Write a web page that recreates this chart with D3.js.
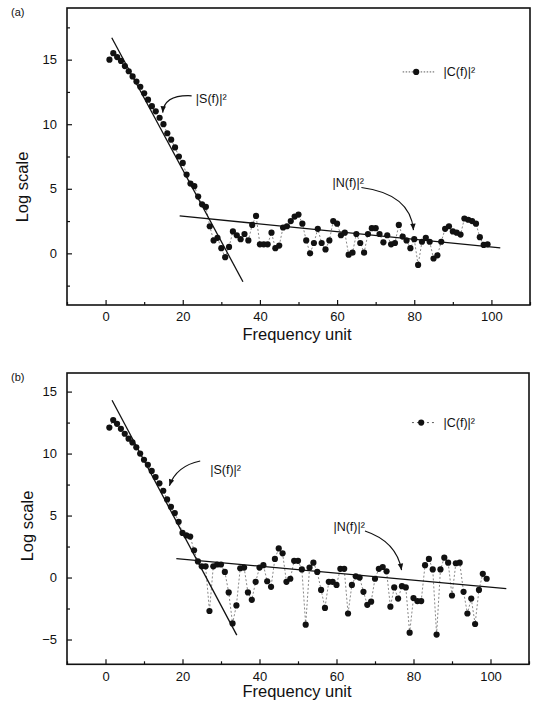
<!DOCTYPE html>
<html>
<head>
<meta charset="utf-8">
<script src="https://cdn.jsdelivr.net/npm/d3@7"></script>
<style>
  body { margin: 0; background: #fff; }
  text { font-family: "Liberation Sans", Arial, sans-serif; fill: #111; }
</style>
</head>
<body>
<script>

// frequency units 1..99
var freq = d3.range(1, 100);

// panel (a) |C(f)|^2
var valuesA = [15.0, 15.5, 15.2, 14.9, 14.5, 14.1, 13.7, 13.3, 12.9, 12.4,
  11.9, 11.4, 11.0, 10.5, 10.0, 9.3, 8.8, 8.2, 7.5, 7.0,
  6.1, 5.4, 5.2, 4.4, 3.8, 3.6, 2.1, 1.0, 1.2, 0.4,
  -0.3, 0.5, 1.7, 1.4, 1.1, 1.5, 1.0, 2.2, 2.9, 0.7,
  0.7, 0.7, 1.6, 0.4, 0.6, 2.0, 2.1, 2.5, 2.85, 3.0,
  2.3, 1.0, 0.0, 0.8, 1.9, 0.8, 0.3, 1.0, 2.5, 2.3,
  1.4, 1.6, -0.1, 0.05, 1.5, 0.8, 0.05, 1.5, 1.95, 1.95,
  1.5, 0.85, 1.4, 0.7, 0.8, 2.2, 1.3, 1.0, 0.4, 1.1,
  -0.9, 0.9, 1.2, 0.9, -0.4, -0.15, 0.9, 1.9, 2.1, 1.7,
  1.6, 1.45, 2.7, 2.6, 2.5, 2.3, 1.25, 0.65, 0.7];

// panel (b) |C(f)|^2
var valuesB = [12.1, 12.7, 12.4, 12.0, 11.6, 11.2, 10.9, 10.5, 10.0, 9.5,
  9.1, 8.6, 8.1, 7.6, 7.0, 6.3, 5.7, 5.2, 4.5, 3.6,
  3.4, 3.3, 2.2, 1.3, 0.9, 0.9, -2.7, 0.9, 1.05, 1.05,
  0.45, -1.2, -3.7, -2.25, 0.75, 0.8, -1.2, -1.8, -0.35, 0.8,
  1.0, -0.3, -0.75, 1.5, 2.35, 1.95, -0.35, -0.1, 1.35, 1.35,
  0.65, -3.8, 0.8, 1.2, 0.45, -1.0, -2.45, -0.35, -0.35, -0.6,
  0.7, 0.7, -2.9, -0.6, 0.1, 0.0, -1.15, -2.2, -1.95, -0.1,
  0.7, 0.85, 0.5, -2.35, -0.8, -1.7, -0.7, -0.8, -4.45, -1.65,
  -1.9, -1.9, 1.0, 1.5, 0.65, -4.6, 0.65, 1.6, 1.2, -1.45,
  1.15, 1.2, -1.15, -2.9, -1.7, -3.75, -1.0, 0.3, -0.1];

// fitted straight lines, [f, value] end points
var signalLineA = [[1.6, 16.7], [35.6, -2.2]];
var noiseLineA = [[19.2, 2.9], [102.3, 0.42]];
var signalLineB = [[1.7, 14.3], [34.1, -4.65]];
var noiseLineB = [[18.4, 1.53], [104.1, -0.89]];

var xTicks = [0, 20, 40, 60, 80, 100];
var yTicksA = [0, 5, 10, 15];
var yTicksB = [-5, 0, 5, 10, 15];

var W = 538, H = 708;
var svg = d3.select("body").append("svg").attr("width", W).attr("height", H);

function drawPanel(p) {
  var x = d3.scaleLinear().domain([-10, 110]).range([p.left, p.right]);
  var y = d3.scaleLinear().domain(p.yDomain).range([p.bottom, p.top]);
  var g = svg.append("g");

  // frame
  g.append("rect")
    .attr("x", p.left).attr("y", p.top)
    .attr("width", p.right - p.left).attr("height", p.bottom - p.top)
    .attr("fill", "none").attr("stroke", "#111").attr("stroke-width", 1.6);

  // axes with inward ticks
  var xAxis = d3.axisBottom(x).tickValues(xTicks).tickSize(-5).tickPadding(7).tickFormat(d3.format("d"));
  var xMinor = d3.axisBottom(x).tickValues(d3.range(-10, 111, 20)).tickSize(-3).tickFormat("");
  var yAxis = d3.axisLeft(y).tickValues(p.yTicks).tickSize(-5).tickPadding(10).tickFormat(d3.format("d"));
  var yMinor = d3.axisLeft(y).tickValues(p.yMinor).tickSize(-3).tickFormat("");

  [xAxis, xMinor].forEach(function (ax) {
    var a = g.append("g").attr("transform", "translate(0," + p.bottom + ")").call(ax);
    a.select(".domain").remove();
    a.selectAll("line").attr("stroke", "#111").attr("stroke-width", 1.2);
    a.selectAll("text").attr("font-size", 13).style("fill", "#111");
  });
  [yAxis, yMinor].forEach(function (ax) {
    var a = g.append("g").attr("transform", "translate(" + p.left + ",0)").call(ax);
    a.select(".domain").remove();
    a.selectAll("line").attr("stroke", "#111").attr("stroke-width", 1.2);
    a.selectAll("text").attr("font-size", 13).style("fill", "#111");
  });

  // axis titles
  g.append("text")
    .attr("transform", "translate(" + p.yLabelX + "," + p.yLabelY + ") rotate(-90)")
    .attr("text-anchor", "middle").attr("dy", "0.35em")
    .attr("font-size", 16.5).text("Log scale");
  g.append("text")
    .attr("x", 297).attr("y", p.xLabelY)
    .attr("text-anchor", "middle").attr("font-size", 16.5).text("Frequency unit");

  g.append("text")
    .attr("x", 11).attr("y", p.top + 8)
    .attr("font-family", "'Liberation Serif', serif").attr("font-size", 11)
    .text(p.tag);

  var pts = freq.map(function (f, i) { return [f, p.values[i]]; });

  // dotted connecting line
  var line = d3.line().x(function (d) { return x(d[0]); }).y(function (d) { return y(d[1]); });
  g.append("path")
    .attr("d", line(pts))
    .attr("fill", "none").attr("stroke", "#555").attr("stroke-width", 0.7)
    .attr("stroke-dasharray", "2,2");

  // fitted lines
  [p.signalLine, p.noiseLine].forEach(function (l) {
    g.append("path").attr("d", line(l))
      .attr("fill", "none").attr("stroke", "#111").attr("stroke-width", 1.3);
  });

  g.selectAll("circle.pt").data(pts).enter().append("circle")
    .attr("class", "pt")
    .attr("cx", function (d) { return x(d[0]); })
    .attr("cy", function (d) { return y(d[1]); })
    .attr("r", 3.1).attr("fill", "#111");

  // annotations with curved arrows
  p.notes.forEach(function (n) {
    g.append("text").attr("x", x(n.text[0])).attr("y", y(n.text[1]))
      .attr("dy", "0.35em").attr("font-size", 12.5).text(n.label);
    var s = n.arrow[0], c = n.arrow[1], e = n.arrow[2];
    var path = d3.path();
    path.moveTo(x(s[0]), y(s[1]));
    path.quadraticCurveTo(x(c[0]), y(c[1]), x(e[0]), y(e[1]));
    g.append("path").attr("d", path.toString())
      .attr("fill", "none").attr("stroke", "#111").attr("stroke-width", 1.2);
    // arrow head along the last segment
    var ex = x(e[0]), ey = y(e[1]);
    var ang = Math.atan2(ey - y(c[1]), ex - x(c[0]));
    var L = 7, w = 0.4;
    g.append("path")
      .attr("d", "M" + ex + "," + ey +
        "L" + (ex - L * Math.cos(ang - w)) + "," + (ey - L * Math.sin(ang - w)) +
        "L" + (ex - L * Math.cos(ang + w)) + "," + (ey - L * Math.sin(ang + w)) + "Z")
      .attr("fill", "#111");
  });

  // legend
  var lg = p.legend;
  g.append("line")
    .attr("x1", x(lg.from)).attr("x2", x(lg.to))
    .attr("y1", y(lg.y)).attr("y2", y(lg.y))
    .attr("stroke", "#333").attr("stroke-width", 0.8).attr("stroke-dasharray", lg.dash);
  g.append("circle").attr("cx", x(lg.mark)).attr("cy", y(lg.y)).attr("r", 3.1).attr("fill", "#111");
  g.append("text").attr("x", x(lg.text)).attr("y", y(lg.y)).attr("dy", "0.35em")
    .attr("font-size", 12.5).text("|C(f)|\u00b2");
}

drawPanel({
  tag: "(a)", values: valuesA,
  left: 67, right: 530, top: 8, bottom: 305,
  yDomain: [-4, 19], yTicks: yTicksA, yMinor: [-2.5, 2.5, 7.5, 12.5, 17.5],
  yLabelX: 22, yLabelY: 187, xLabelY: 340,
  signalLine: signalLineA, noiseLine: noiseLineA,
  notes: [
    { label: "|S(f)|\u00b2", text: [23.4, 12.0], arrow: [[22.3, 12.2], [15.2, 12.3], [14.8, 10.9]] },
    { label: "|N(f)|\u00b2", text: [58.8, 5.5], arrow: [[66.3, 5.1], [79.0, 4.6], [79.8, 1.8]] }
  ],
  legend: { from: 77, to: 85.5, mark: 80.5, y: 14.05, text: 87.6, dash: "1.5,1.5" }
});

drawPanel({
  tag: "(b)", values: valuesB,
  left: 67, right: 529, top: 373, bottom: 664.3,
  yDomain: [-7, 16.5], yTicks: yTicksB, yMinor: [-2.5, 2.5, 7.5, 12.5],
  yLabelX: 27, yLabelY: 526, xLabelY: 697,
  signalLine: signalLineB, noiseLine: noiseLineB,
  notes: [
    { label: "|S(f)|\u00b2", text: [27.2, 8.7], arrow: [[24.6, 9.4], [18.4, 9.0], [16.6, 7.4]] },
    { label: "|N(f)|\u00b2", text: [59.2, 4.1], arrow: [[67.4, 3.75], [75.6, 2.9], [76.9, 0.6]] }
  ],
  legend: { from: 79.6, to: 85.7, mark: 82, y: 12.5, text: 87.8, dash: "2,3" }
});

</script>
</body>
</html>
